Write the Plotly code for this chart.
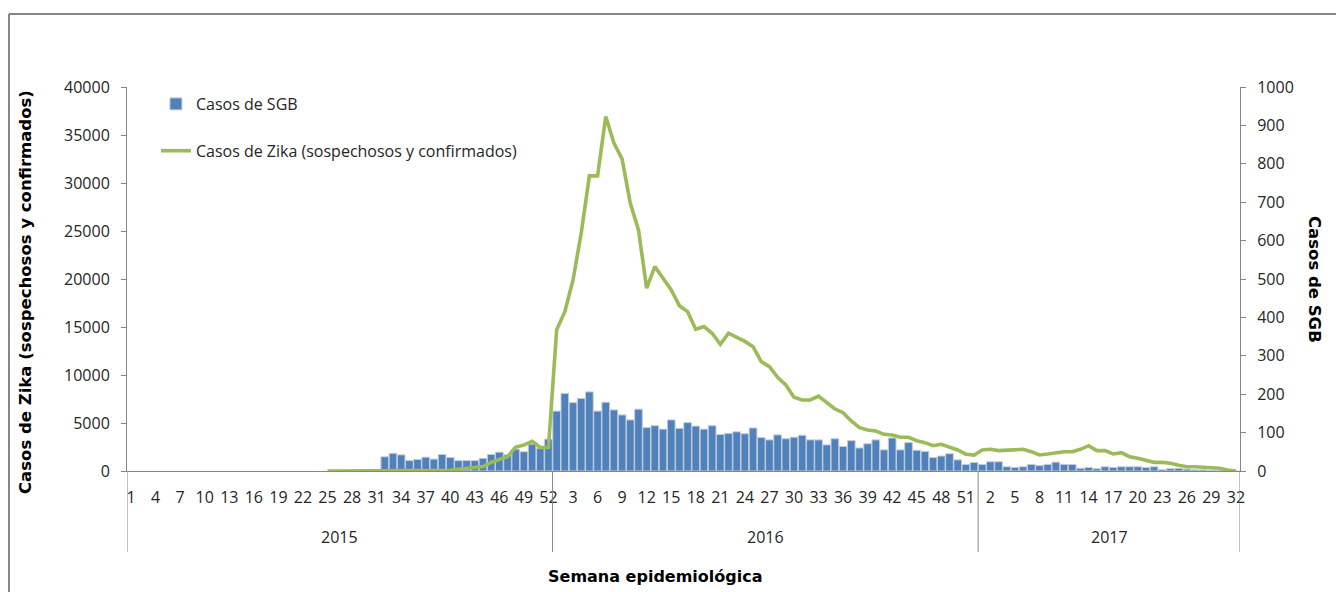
import plotly.graph_objects as go

# ---------------- data ----------------
year_labels = ["2015", "2016", "2017"]
weeks_per_year = [52, 52, 32]

# Casos de SGB (weekly)
sgb_2015 = [None] * 31 + [37, 46, 42, 27, 30, 36, 31, 43, 35, 27, 27, 27, 33, 43, 49, 42, 57, 50, 70, 59, 83]
sgb_2016 = [156, 202, 178, 189, 206, 156, 179, 159, 146, 133, 161, 113, 118, 109, 133, 111, 126, 117, 109, 118,
            95, 98, 102, 97, 112, 87, 81, 94, 84, 88, 93, 81, 81, 68, 84, 64, 79, 60, 71, 81,
            55, 86, 55, 74, 54, 51, 35, 39, 45, 29, 17, 22]
sgb_2017 = [17, 24, 24, 11, 9, 11, 17, 14, 17, 23, 17, 17, 7, 9, 6, 11, 9, 11, 11, 11,
            9, 11, 4, 6, 7, 5, 3, 3, 2, 1, 1, 0]

# Casos de Zika (sospechosos y confirmados) (weekly)
zika_2015 = [None] * 24 + [0, 0, 0, 5, 10, 10, 15, 20, 20, 25, 30, 30, 35, 40, 50, 80,
                           180, 280, 380, 470, 900, 1200, 1500, 2500, 2700, 3100, 2450, 2450]
zika_2016 = [14700, 16600, 19900, 24770, 30740, 30740, 36920, 34150, 32480, 27890, 25110, 19040, 21290, 20080,
             18860, 17220, 16600, 14760, 15040, 14350, 13200, 14350, 13930, 13500, 12950, 11390, 10870, 9760,
             8960, 7680, 7400, 7400, 7810, 7120, 6460, 6080, 5210, 4510, 4270, 4170, 3820, 3750, 3510, 3510,
             3160, 2950, 2640, 2780, 2530, 2190, 1750, 1650]
zika_2017 = [2190, 2260, 2120, 2190, 2260, 2260, 2010, 1670, 1770, 1910, 2010, 2010, 2260, 2640, 2120, 2120,
             1770, 1910, 1490, 1320, 1070, 900, 900, 800, 590, 450, 450, 380, 280, 280, 100, 0]

# ---------------- build ----------------
week_numbers = []
for n in weeks_per_year:
    week_numbers += list(range(1, n + 1))
idx = list(range(len(week_numbers)))
sgb = sgb_2015 + sgb_2016 + sgb_2017
zika = zika_2015 + zika_2016 + zika_2017

tick_idx = idx[::3]
tick_txt = [str(week_numbers[i]) for i in tick_idx]

AX = "#868686"
TXT = "#262626"
FONT = "Open Sans"
BOLD = "DejaVu Sans"

fig = go.Figure()
fig.add_trace(go.Bar(
    x=idx, y=sgb, name="Casos de SGB",
    marker=dict(color="#4F81BD", line=dict(color="#C6CCD6", width=1)),
    yaxis="y", legendgroup="a",
))
fig.add_trace(go.Scatter(
    x=idx, y=zika, name="Casos de Zika (sospechosos y confirmados)",
    mode="lines", line=dict(color="#9BBB59", width=3.6),
    yaxis="y2", legendgroup="b",
))

W, H = 1336, 592
ml, mr, mt, mb = 127, 96, 87, 121
pw, ph = W - ml - mr, H - mt - mb

fig.update_layout(
    width=W, height=H,
    margin=dict(l=ml, r=mr, t=mt, b=mb),
    paper_bgcolor="white", plot_bgcolor="white",
    bargap=0.06,
    font=dict(family=FONT, size=16, color=TXT),
    xaxis=dict(
        range=[-0.5, len(idx) - 0.5], tickmode="array", tickvals=tick_idx, ticktext=tick_txt,
        showgrid=False, zeroline=False, showline=True, linecolor=AX, linewidth=1,
        ticks="", ticklabelstandoff=12, tickfont=dict(family=FONT, size=16, color=TXT),
    ),
    yaxis=dict(
        side="right", range=[0, 1000], dtick=100, showgrid=False, zeroline=False,
        showline=True, linecolor=AX, linewidth=1, ticks="outside", ticklen=5, tickcolor=AX,
        ticklabelstandoff=8, tickformat="d", tickfont=dict(family=FONT, size=16, color=TXT),
    ),
    yaxis2=dict(
        side="left", overlaying="y", range=[0, 40000], dtick=5000, showgrid=False, zeroline=False,
        showline=True, linecolor=AX, linewidth=1, ticks="outside", ticklen=5, tickcolor=AX,
        ticklabelstandoff=8, tickformat="d", tickfont=dict(family=FONT, size=16, color=TXT),
    ),
    legend=dict(x=0.026, y=1.0, xanchor="left", yanchor="top", bgcolor="rgba(0,0,0,0)",
                font=dict(family=FONT, size=16, color=TXT), tracegroupgap=23,
                traceorder="grouped"),
    showlegend=True,
)

# group separators of the two-level category axis
ext = -(552 - 471) / ph
bounds = [-0.5]
acc = 0
for n in weeks_per_year:
    acc += n
    bounds.append(acc - 0.5)
for b in bounds:
    fig.add_shape(type="line", xref="x", yref="paper", x0=b, x1=b, y0=0, y1=ext,
                  line=dict(color=AX, width=1))

# year labels
for k, yl in enumerate(year_labels):
    c = (bounds[k] + bounds[k + 1]) / 2
    fig.add_annotation(x=c, xref="x", y=(471 - 537) / ph, yref="paper", text=yl, showarrow=False,
                       font=dict(family=FONT, size=16, color=TXT), xanchor="center", yanchor="middle")

# axis titles
fig.add_annotation(x=(25 - ml) / pw, y=(471 - 292) / ph, xref="paper", yref="paper",
                   text="<b>Casos de Zika (sospechosos y confirmados)</b>", textangle=-90,
                   xanchor="center", yanchor="middle",
                   showarrow=False, font=dict(family=BOLD, size=16.5, color="black"))
fig.add_annotation(x=(1315 - ml) / pw, y=(471 - 279) / ph, xref="paper", yref="paper",
                   text="<b>Casos de SGB</b>", textangle=90,
                   xanchor="center", yanchor="middle",
                   showarrow=False, font=dict(family=BOLD, size=16.5, color="black"))
fig.add_annotation(x=(655 - ml) / pw, y=(471 - 576) / ph, xref="paper", yref="paper",
                   text="<b>Semana epidemiológica</b>", xanchor="center", yanchor="middle",
                   showarrow=False, font=dict(family=BOLD, size=16, color="black"))

# chart-area border (top and left edges visible)
fig.add_shape(type="line", xref="paper", yref="paper", x0=(9 - ml) / pw, x1=(1340 - ml) / pw,
              y0=(471 - 14) / ph, y1=(471 - 14) / ph, line=dict(color="#878787", width=2))
fig.add_shape(type="line", xref="paper", yref="paper", x0=(9 - ml) / pw, x1=(9 - ml) / pw,
              y0=(471 - 14) / ph, y1=(471 - 600) / ph, line=dict(color="#878787", width=2))

fig.write_html("out.html", config={"displayModeBar": False},
               post_script="document.body.style.margin='0px';document.body.style.overflow='hidden';")
